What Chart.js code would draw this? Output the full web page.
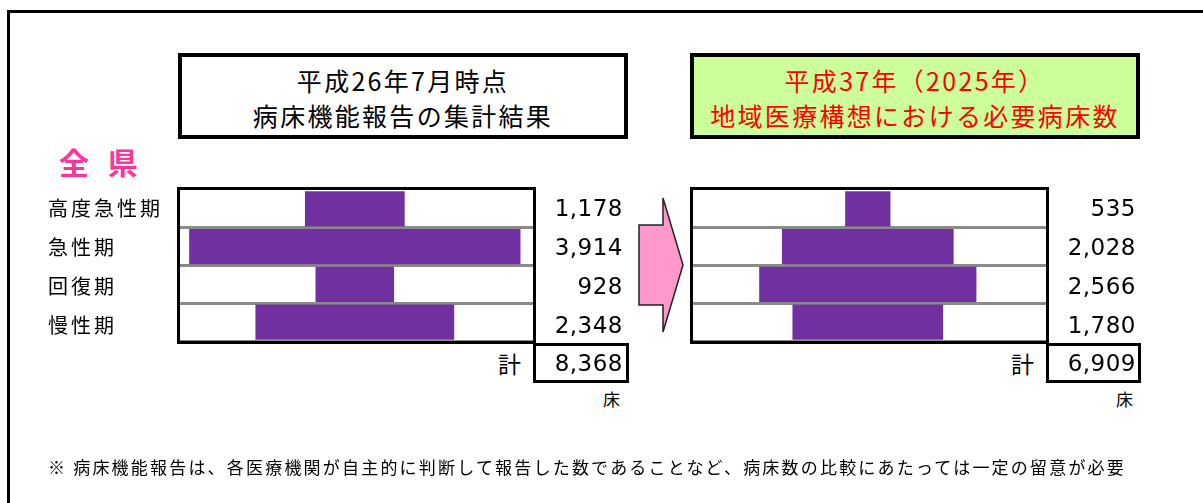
<!DOCTYPE html>
<html>
<head>
<meta charset="utf-8">
<script src="https://cdn.jsdelivr.net/npm/chart.js@4.4.1/dist/chart.umd.min.js"></script>
<style>
  body { margin: 0; background: #fff; width: 1203px; height: 503px; overflow: hidden; position: relative;
         font-family: "Noto Sans CJK JP", "Noto Sans", sans-serif; color: #000; }
  .abs { position: absolute; }
  .frame { left: 7px; top: 10px; width: 1300px; height: 600px; border: 3px solid #000; }
  .head { top: 53px; height: 86px; width: 450px; border: 4px solid #000; box-sizing: border-box;
          font-size: 25px; letter-spacing: 2.3px; text-align: center; line-height: 35px; padding-top: 6px; }
  .plot { top: 187px; width: 359px; height: 157px; border: 3px solid #000; box-sizing: border-box; }
  .cat { left: 48px; font-size: 20px; letter-spacing: 3px; line-height: 24px; }
  .val { font-family: "DejaVu Sans", sans-serif; font-size: 23px; letter-spacing: 0.5px; text-align: right; width: 120px; line-height: 28px; }
  .totbox { top: 343px; height: 40px; border: 3px solid #000; box-sizing: border-box; }
  .kei { top: 346px; font-size: 23px; }
  .unit { top: 386px; font-size: 17px; }
</style>
</head>
<body>
<div class="abs frame"></div>

<div class="abs head" style="left:178px;">平成26年7月時点<br>病床機能報告の集計結果</div>
<div class="abs head" style="left:690px; background:#CCFF99; color:#FF0000;">平成37年（2025年）<br>地域医療構想における必要病床数</div>

<div class="abs" style="left:59px; top:139px; font-size:30px; font-weight:bold; color:#FF3399; letter-spacing:6px;">全 県</div>

<div class="abs plot" style="left:177px;"><canvas id="left" width="353" height="151"></canvas></div>
<div class="abs plot" style="left:690px;"><canvas id="right" width="353" height="151"></canvas></div>

<div class="abs totbox" style="left:533px; width:96px;"></div>
<div class="abs totbox" style="left:1046px; width:95px;"></div>
<div class="abs kei" style="left:498px;">計</div>
<div class="abs kei" style="left:1011px;">計</div>
<div class="abs unit" style="left:603px;">床</div>
<div class="abs unit" style="left:1116px;">床</div>

<svg class="abs" style="left:0; top:0;" width="1203" height="503">
  <polygon points="639,225 663,225 663,198 683,265 663,332 663,305 639,305"
           fill="#FF99CC" stroke="#222" stroke-width="1.5"/>
</svg>

<div class="abs" style="left:48px; top:454px; font-size:17px; letter-spacing:2.2px;">※ 病床機能報告は、各医療機関が自主的に判断して報告した数であることなど、病床数の比較にあたっては一定の留意が必要</div>

<div id="labels"></div>

<script>
const categories = ['高度急性期', '急性期', '回復期', '慢性期'];
const beds2014 = [1178, 3914, 928, 2348];
const beds2025 = [535, 2028, 2566, 1780];

const rowTops = [188, 227, 266, 305];
const rowH = 39;

function fmt(n) {
  return n.toLocaleString('en-US');
}

const box = document.getElementById('labels');
function addText(cls, txt, left, top) {
  const d = document.createElement('div');
  d.className = 'abs ' + cls;
  d.style.left = left + 'px';
  d.style.top = top + 'px';
  d.textContent = txt;
  box.appendChild(d);
}

categories.forEach(function (c, i) {
  addText('cat', c, 48, rowTops[i] + (rowH - 24) / 2);
  addText('val', fmt(beds2014[i]), 503, rowTops[i] + (rowH - 28) / 2);
  addText('val', fmt(beds2025[i]), 1016, rowTops[i] + (rowH - 28) / 2);
});
const sum = a => a.reduce((s, v) => s + v, 0);
addText('val', fmt(sum(beds2014)), 503, 349);
addText('val', fmt(sum(beds2025)), 1016, 349);

// bars are centred on zero, so the x range is symmetric; shift moves the centre a little
function makeChart(id, values, shift) {
  const ctx = document.getElementById(id).getContext('2d');
  return new Chart(ctx, {
    type: 'bar',
    data: {
      labels: categories,
      datasets: [{
        data: values.map(v => [-v / 2, v / 2]),
        backgroundColor: '#7030A0',
        borderWidth: 0,
        barPercentage: 0.93,
        categoryPercentage: 1
      }]
    },
    options: {
      indexAxis: 'y',
      responsive: false,
      animation: false,
      layout: { padding: 0 },
      scales: {
        x: { display: false, min: -2085 + shift, max: 2085 + shift },
        y: {
          display: true,
          ticks: { display: false },
          border: { display: false },
          grid: {
            offset: true,
            drawTicks: false,
            lineWidth: 3,
            color: c => (c.index === 0 || c.index === categories.length) ? 'rgba(0,0,0,0)' : '#8a8a8a'
          },
          afterFit: s => { s.width = 0; }
        }
      },
      plugins: {
        legend: { display: false },
        tooltip: { enabled: false }
      }
    }
  });
}

makeChart('left', beds2014, 20);
makeChart('right', beds2025, 20);
</script>
</body>
</html>
